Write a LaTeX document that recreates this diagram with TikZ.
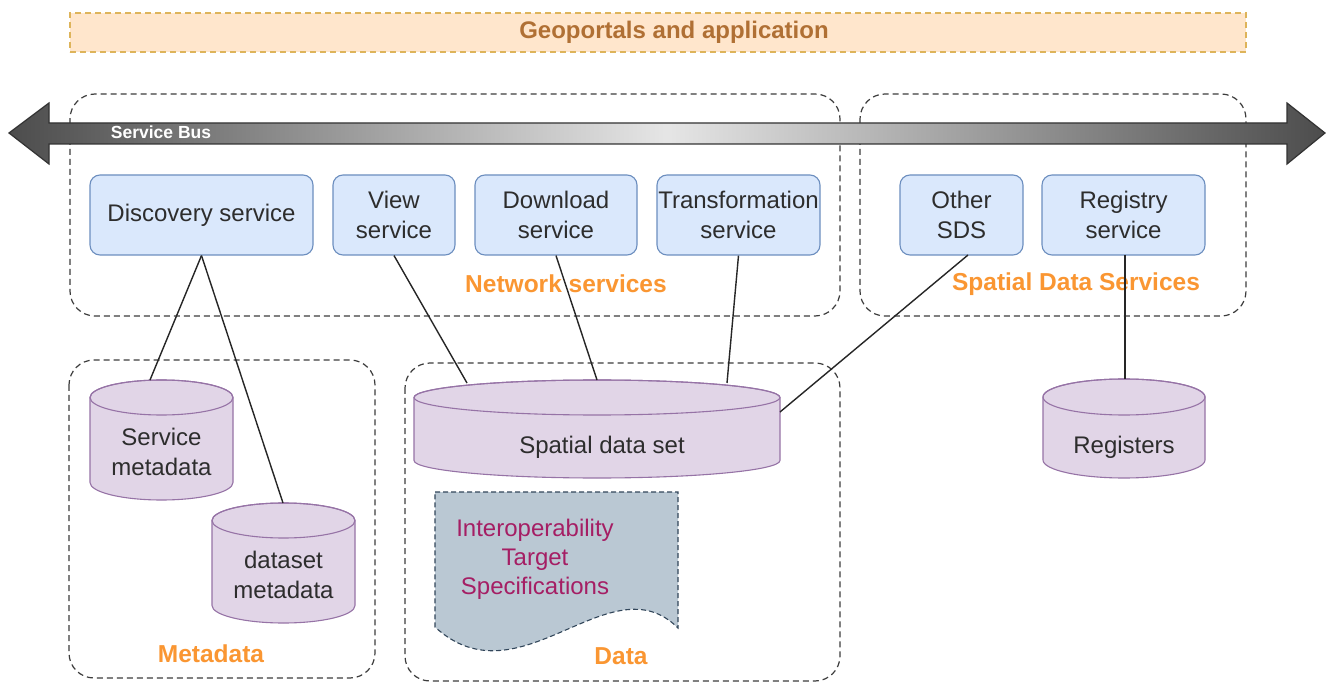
\documentclass[tikz,border=0pt]{standalone}
\usepackage{fontspec}
\setmainfont{Liberation Sans}
\usetikzlibrary{shapes.geometric}
\definecolor{geofill}{RGB}{255,230,204}
\definecolor{geoline}{RGB}{222,180,90}
\definecolor{geotext}{RGB}{176,112,52}
\definecolor{lbl}{RGB}{250,150,50}
\definecolor{bfill}{RGB}{218,232,252}
\definecolor{bline}{RGB}{108,142,191}
\definecolor{pfill}{RGB}{225,213,231}
\definecolor{pline}{RGB}{150,115,166}
\definecolor{dfill}{RGB}{186,200,211}
\definecolor{dline}{RGB}{50,70,90}
\definecolor{dtext}{RGB}{165,30,100}
\definecolor{txt}{RGB}{45,45,45}
\definecolor{grp}{RGB}{60,60,60}
\newcommand\mycyl[5]{%
  \pgfmathsetmacro\cyxa{#1-#3}%
  \pgfmathsetmacro\cyxb{#1+#3}%
  \pgfmathsetmacro\cyyt{#2+#5}%
  \pgfmathsetmacro\cyyb{#2+#4-#5}%
  \path[cylstyle] (\cyxa,\cyyt) -- (\cyxa,\cyyb)
    arc[start angle=180,end angle=0,x radius=#3,y radius=#5]
    -- (\cyxb,\cyyt)
    arc[start angle=0,end angle=-180,x radius=#3,y radius=#5] -- cycle;
  \draw[cylline] (#1,\cyyt) ellipse[x radius=#3,y radius=#5];
}
\tikzset{
  grpbox/.style={draw=grp,line width=1.2pt,dash pattern=on 6pt off 4pt,rounded corners=25pt},
  svc/.style={draw=bline,fill=bfill,line width=1.1pt,rounded corners=10pt,
    minimum height=80pt,inner sep=0pt,align=center,text=txt,
    font=\fontsize{24}{30}\selectfont},
  grplabel/.style={text=lbl,font=\bfseries\fontsize{24.5}{28}\selectfont,inner sep=0pt},
  cylstyle/.style={draw=pline,fill=pfill,line width=1.1pt},
  cylline/.style={draw=pline,line width=1.1pt},
  cyltext/.style={align=center,text=txt,inner sep=0pt,font=\fontsize{24}{30}\selectfont},
  conn/.style={draw=black!85,line width=1.4pt},
}
\begin{document}
\begin{tikzpicture}[x=1pt,y=-1pt]
\useasboundingbox (0,0) rectangle (1328,684);
\fill[white] (0,0) rectangle (1328,684);
% Geoportals
\node[draw=geoline,fill=geofill,line width=1.2pt,dash pattern=on 6pt off 4pt,
  minimum width=1176pt,minimum height=39pt,inner sep=0pt] (geo) at (658,32.5) {};
\node[text=geotext,inner sep=0pt,font=\bfseries\fontsize{24}{28}\selectfont] (geotxt) at (674,32) {Geoportals and application};
% groups
\draw[grpbox] (70,94) rectangle (840,316);
\draw[grpbox] (860,94) rectangle (1246,316);
\draw[grpbox] (69,360) rectangle (375,678);
\draw[grpbox] (405,363) rectangle (840,681);
% service bus
\path[draw=black!80,line width=1.2pt,left color=black!70,right color=black!70,middle color=black!10]
  (9,133) -- (49,103) -- (49,123) -- (1287,123) -- (1287,103) -- (1325,133)
  -- (1287,164) -- (1287,144) -- (49,144) -- (49,164) -- cycle;
\node[text=white,font=\bfseries\fontsize{17.5}{20}\selectfont,inner sep=0pt] (bus) at (161,132) {Service Bus};
% services
\node[svc,minimum width=223pt] (disc) at (201.5,215) {Discovery service};
\node[svc,minimum width=122pt] (view) at (394,215) {View\\service};
\node[svc,minimum width=162pt] (down) at (556,215) {Download\\service};
\node[svc,minimum width=163pt] (trans) at (738.5,215) {Transformation\\service};
\node[svc,minimum width=123pt] (other) at (961.5,215) {Other\\SDS};
\node[svc,minimum width=163pt] (reg) at (1123.5,215) {Registry\\service};
% group labels
\node[grplabel] (lnet) at (566,284) {Network services};
\node[grplabel] (lsds) at (1076,284) {Spatial Data Services};
\node[grplabel] (lmeta) at (211,654) {Metadata};
\node[grplabel] (ldata) at (621,656) {Data};
% cylinders
\mycyl{161.5}{380}{71.5}{120}{17.5}
\node[cyltext] (sm) at (161.5,452) {Service\\metadata};
\mycyl{283.5}{503}{71.5}{120}{17.5}
\node[cyltext] (dm) at (283.5,575) {dataset\\metadata};
\mycyl{597}{380}{183}{98}{17.5}
\node[cyltext] (sds) at (602,447) {Spatial data set};
\mycyl{1124}{379}{81}{99}{18}
\node[cyltext] (regs) at (1124,447) {Registers};
% document shape
\path[fill=dfill,draw=dline,line width=1.1pt,dash pattern=on 5pt off 3pt]
  (435,492) -- (678,492) -- (678,628)
  .. controls (610,560) and (520,705) .. (435,627) -- cycle;
\node[align=center,text=dtext,inner sep=0pt,font=\fontsize{24}{29}\selectfont] (its) at (535,559)
  {Interoperability\\Target\\Specifications};
% connector endpoints
\coordinate (smtop) at (150,380);
\coordinate (dmtop) at (283,503);
\coordinate (sdsa) at (467,383);
\coordinate (sdsb) at (597,380);
\coordinate (sdsc) at (727,383);
\coordinate (sdsr) at (780,412);
\coordinate (regtop) at (1125,379);
\coordinate (otherb) at (968,255);
\coordinate (regb) at (1125,255);
% connectors
\draw[conn] (disc.south) -- (smtop);
\draw[conn] (disc.south) -- (dmtop);
\draw[conn] (view.south) -- (sdsa);
\draw[conn] (down.south) -- (sdsb);
\draw[conn] (trans.south) -- (sdsc);
\draw[conn] (otherb) -- (sdsr);
\draw[conn] (regb) -- (regtop);
\end{tikzpicture}
\end{document}
